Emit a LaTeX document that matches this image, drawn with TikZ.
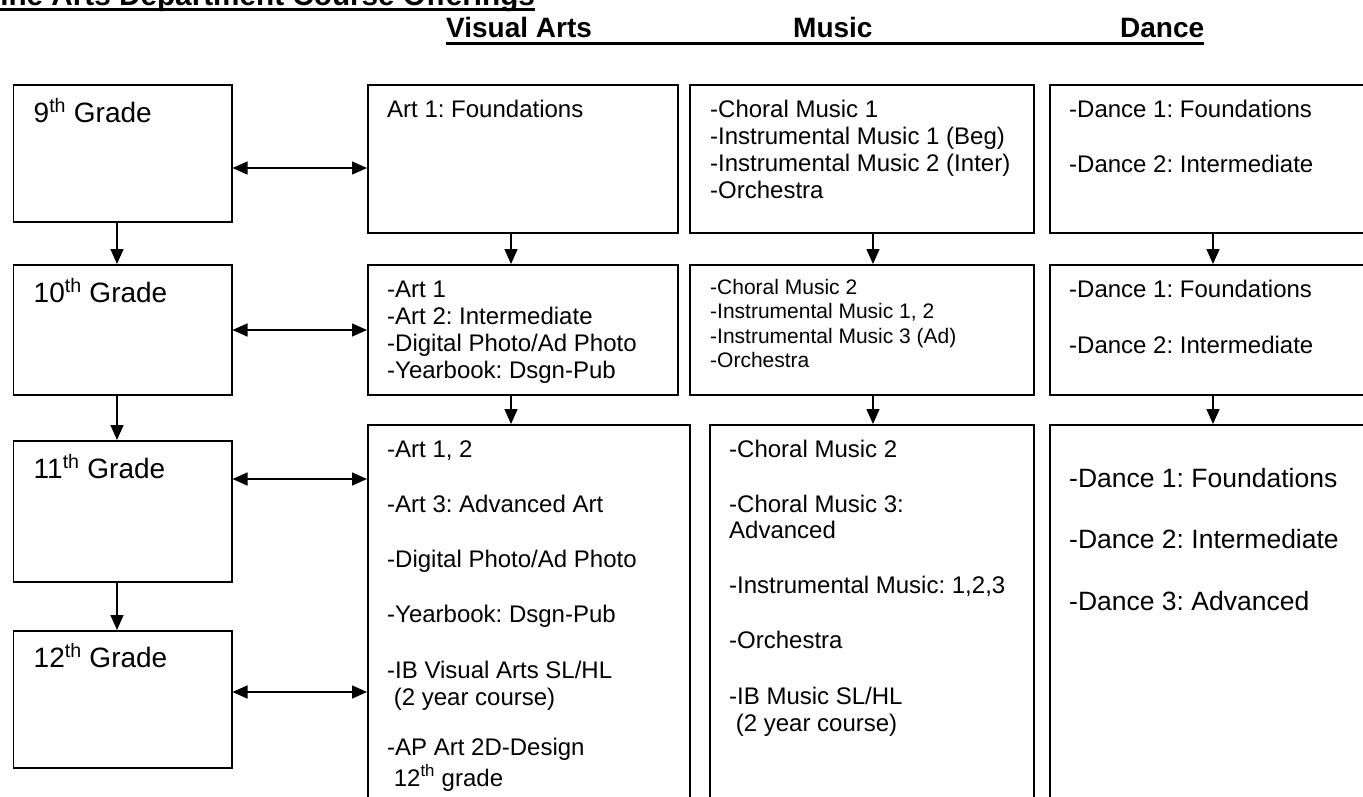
\documentclass[tikz,border=0pt]{standalone}
\usepackage{fontspec}
\setmainfont{Liberation Sans}
\usetikzlibrary{arrows.meta}
\frenchspacing
\begin{document}
\begin{tikzpicture}[x=1pt,y=-1pt,
  box/.style={draw, line width=1.5pt, inner sep=0, anchor=north west},
  ln/.style={inner sep=0, anchor=base west, font=\fontsize{24}{28}\selectfont},
  lnsmall/.style={inner sep=0, anchor=base west, font=\fontsize{21}{24}\selectfont},
  lnbig/.style={inner sep=0, anchor=base west, font=\fontsize{26.5}{30}\selectfont},
  grade/.style={inner sep=0, anchor=base west, font=\fontsize{28}{32}\selectfont},
  head/.style={inner sep=0, anchor=base west, font=\bfseries\fontsize{28}{32}\selectfont},
  arr/.style={line width=1.5pt, -{Triangle[length=15pt,width=13pt]}},
  dbl/.style={line width=1.5pt, {Triangle[length=15pt,width=13pt]}-{Triangle[length=15pt,width=13pt]}}
]
\useasboundingbox (0,0) rectangle (1363,796);
\clip (0,0) rectangle (1363,796);

% title and column headings
\node[inner sep=0, anchor=base west, font=\bfseries\fontsize{29.7}{34}\selectfont] (title) at (-18,5) {Fine Arts Department Course Offerings};
\draw[line width=3pt] ([yshift=-4pt]title.base west) -- ([yshift=-4pt]title.base east);
\node[head] (hva) at (446,37) {Visual Arts};
\node[head] (hmu) at (793,37) {Music};
\node[head] (hda) at (1120,37) {Dance};
\draw[line width=3pt] ([yshift=-6.5pt]hva.base west) -- ([yshift=-6.5pt]hda.base east);

% grade boxes
\node[box, minimum width=218.5pt, minimum height=137pt] (g9)  at (12.5,84)  {};
\node[box, minimum width=218.5pt, minimum height=130pt] (g10) at (12.5,264) {};
\node[box, minimum width=218.5pt, minimum height=141pt] (g11) at (12.5,440) {};
\node[box, minimum width=218.5pt, minimum height=137pt] (g12) at (12.5,630) {};
\node[grade] (t9)  at (33.5,122) {9\textsuperscript{th} Grade};
\node[grade] (t10) at (33.5,302) {10\textsuperscript{th} Grade};
\node[grade] (t11) at (33.5,478) {11\textsuperscript{th} Grade};
\node[grade] (t12) at (33.5,667) {12\textsuperscript{th} Grade};

% visual arts boxes
\node[box, minimum width=310pt, minimum height=148pt] (va1) at (367,84)  {};
\node[box, minimum width=310pt, minimum height=130pt] (va2) at (367,264) {};
\node[box, minimum width=322pt, minimum height=400pt] (va3) at (367,424) {};

% music boxes
\node[box, minimum width=344pt, minimum height=148pt] (mu1) at (689,84)  {};
\node[box, minimum width=344pt, minimum height=130pt] (mu2) at (689,264) {};
\node[box, minimum width=324pt, minimum height=400pt] (mu3) at (709,424) {};

% dance boxes
\node[box, minimum width=360pt, minimum height=148pt] (da1) at (1049,84)  {};
\node[box, minimum width=360pt, minimum height=130pt] (da2) at (1049,264) {};
\node[box, minimum width=360pt, minimum height=400pt] (da3) at (1049,424) {};

% visual arts courses
\node[ln] (va1a) at (387,117) {Art 1: Foundations};
\node[ln] (va2a) at (387,297) {-Art 1};
\node[ln] (va2b) at (387,324) {-Art 2: Intermediate};
\node[ln] (va2c) at (387,351) {-Digital Photo/Ad Photo};
\node[ln] (va2d) at (387,378) {-Yearbook: Dsgn-Pub};
\node[ln] (va3a) at (387,457) {-Art 1, 2};
\node[ln] (va3b) at (387,512) {-Art 3: Advanced Art};
\node[ln] (va3c) at (387,567) {-Digital Photo/Ad Photo};
\node[ln] (va3d) at (387,622) {-Yearbook: Dsgn-Pub};
\node[ln] (va3e) at (387,678) {-IB Visual Arts SL/HL};
\node[ln] (va3f) at (387,705) {\ (2 year course)};
\node[ln] (va3g) at (387,755) {-AP Art 2D-Design};
\node[ln] (va3h) at (387,786) {\ 12\textsuperscript{th} grade};

% music courses
\node[ln] (mu1a) at (710,117) {-Choral Music 1};
\node[ln] (mu1b) at (710,144) {-Instrumental Music 1 (Beg)};
\node[ln] (mu1c) at (710,171) {-Instrumental Music 2 (Inter)};
\node[ln] (mu1d) at (710,198) {-Orchestra};
\node[lnsmall] (mu2a) at (710,294) {-Choral Music 2};
\node[lnsmall] (mu2b) at (710,318) {-Instrumental Music 1, 2};
\node[lnsmall] (mu2c) at (710,343) {-Instrumental Music 3 (Ad)};
\node[lnsmall] (mu2d) at (710,367) {-Orchestra};
\node[ln] (mu3a) at (729,457) {-Choral Music 2};
\node[ln] (mu3b) at (729,512) {-Choral Music 3:};
\node[ln] (mu3c) at (729,538) {Advanced};
\node[ln] (mu3d) at (729,593) {-Instrumental Music: 1,2,3};
\node[ln] (mu3e) at (729,648) {-Orchestra};
\node[ln] (mu3f) at (729,704) {-IB Music SL/HL};
\node[ln] (mu3g) at (729,731) {\ (2 year course)};

% dance courses
\node[ln] (da1a) at (1069,117) {-Dance 1: Foundations};
\node[ln] (da1b) at (1069,172) {-Dance 2: Intermediate};
\node[ln] (da2a) at (1069,297) {-Dance 1: Foundations};
\node[ln] (da2b) at (1069,353) {-Dance 2: Intermediate};
\node[lnbig] (da3a) at (1069,487) {-Dance 1: Foundations};
\node[lnbig] (da3b) at (1069,548) {-Dance 2: Intermediate};
\node[lnbig] (da3c) at (1069,610) {-Dance 3: Advanced};

% grade progression
\draw[arr] (g9.south -| 117,0)  -- (g10.north -| 117,0);
\draw[arr] (g10.south -| 117,0) -- (g11.north -| 117,0);
\draw[arr] (g11.south -| 117,0) -- (g12.north -| 117,0);

% grade to visual arts links
\draw[dbl] (g9.east |- 0,168)  -- (va1.west |- 0,168);
\draw[dbl] (g10.east |- 0,330) -- (va2.west |- 0,330);
\draw[dbl] (g11.east |- 0,479) -- (va3.west |- 0,479);
\draw[dbl] (g12.east |- 0,692) -- (va3.west |- 0,692);

% course progression within each department
\draw[arr] (va1.south -| 511,0)  -- (va2.north -| 511,0);
\draw[arr] (va2.south -| 511,0)  -- (va3.north -| 511,0);
\draw[arr] (mu1.south -| 873,0)  -- (mu2.north -| 873,0);
\draw[arr] (mu2.south -| 873,0)  -- (mu3.north -| 873,0);
\draw[arr] (da1.south -| 1213,0) -- (da2.north -| 1213,0);
\draw[arr] (da2.south -| 1213,0) -- (da3.north -| 1213,0);
\end{tikzpicture}
\end{document}
